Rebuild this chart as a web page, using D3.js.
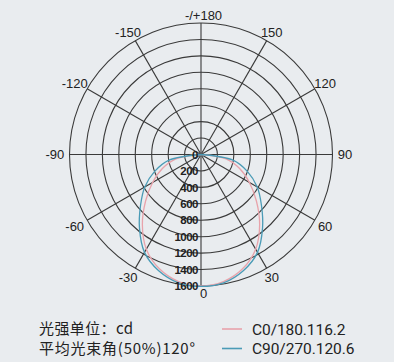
<!DOCTYPE html>
<html>
<head>
<meta charset="utf-8">
<script src="https://cdn.jsdelivr.net/npm/d3@7"></script>
<style>
  html, body { margin: 0; padding: 0; background: #e9ecef; }
  svg { display: block; }
</style>
</head>
<body>
<svg id="chart" width="394" height="362"></svg>
<script>
// ---- data ----
const angleTicks = [180, -150, 150, -120, 120, -90, 90, -60, 60, -30, 30, 0];
const angleTickLabels = ["-/+180", "-150", "150", "-120", "120", "-90", "90", "-60", "60", "-30", "30", "0"];
const radialTicks = [0, 200, 400, 600, 800, 1000, 1200, 1400, 1600];
const spokeAngles = [0, 30, 60, 90, 120, 150, 180, 210, 240, 270, 300, 330];
const curveAngles = [-90, -80, -70, -60, -50, -40, -30, -20, -10, 0, 10, 20, 30, 40, 50, 60, 70, 80, 90];
const c0Values  = [0, 310, 500, 680, 880, 1110, 1330, 1480, 1570, 1600, 1570, 1480, 1330, 1110, 880, 680, 500, 310, 0];
const c90Values = [0, 395, 600, 790, 960, 1165, 1375, 1505, 1585, 1605, 1585, 1505, 1375, 1165, 960, 790, 600, 395, 0];
const seriesNames = ["C0/180.116.2", "C90/270.120.6"];
const seriesColors = ["#e8a3ab", "#4a9bb6"];
const infoLines = ["光强单位：cd", "平均光束角(50%)120°"];

// ---- layout ----
const svg = d3.select("#chart");
const cx = 201, cy = 154.5, R = 131.5;
const r = d3.scaleLinear().domain([0, 1600]).range([0, R]);
const toRad = d => d * Math.PI / 180;
// angle measured from the downward direction, positive to the right
const px = (deg, v) => cx + r(v) * Math.sin(toRad(deg));
const py = (deg, v) => cy + r(v) * Math.cos(toRad(deg));

const g = svg.append("g");

// rings
g.selectAll("circle.ring").data(radialTicks.slice(1)).enter().append("circle")
  .attr("cx", cx).attr("cy", cy).attr("r", d => r(d))
  .attr("fill", "none").attr("stroke", "#3a3a3a").attr("stroke-width", 1.1);

// spokes
g.selectAll("line.spoke").data(spokeAngles).enter().append("line")
  .attr("x1", cx).attr("y1", cy)
  .attr("x2", d => px(d, 1600)).attr("y2", d => py(d, 1600))
  .attr("stroke", "#3a3a3a").attr("stroke-width", 1.1);

// curves
const series = [c0Values, c90Values];
const line = d3.lineRadial()
  .angle(d => Math.PI - toRad(d[0]))
  .radius(d => r(d[1]))
  .curve(d3.curveCatmullRom.alpha(0.5));
series.forEach((vals, i) => {
  const pts = curveAngles.map((a, j) => [a, vals[j]]);
  svg.append("path")
    .attr("transform", `translate(${cx},${cy})`)
    .attr("d", line(pts))
    .attr("fill", "none")
    .attr("stroke", seriesColors[i])
    .attr("stroke-width", 1.3);
});

// radial labels
svg.selectAll("text.rlab").data(radialTicks).enter().append("text")
  .attr("x", cx - 3).attr("y", d => cy + r(d))
  .attr("dy", "0.36em")
  .attr("text-anchor", "end")
  .attr("font-family", "Liberation Sans, Arial, sans-serif")
  .attr("font-size", 11.5)
  .attr("font-weight", "bold")
  .attr("letter-spacing", -0.5)
  .attr("fill", "#222")
  .text(d => d);

// angle labels: numeric part centred on the label point, minus sign hangs left
const angFont = "Liberation Sans, Arial, sans-serif";
const measure = svg.append("text").attr("font-family", angFont).attr("font-size", 13).attr("visibility", "hidden");
const width = s => { measure.text(s); return measure.node().getComputedTextLength(); };
angleTicks.forEach((d, i) => {
  const lab = angleTickLabels[i];
  const s = Math.abs(Math.sin(toRad(d)));
  const LR = 139 + 5 * s;
  let x = cx + LR * Math.sin(toRad(d));
  const y = cy + LR * Math.cos(toRad(d));
  if (Math.abs(d) === 180 || d === 0) x += 2.5;
  const num = lab.replace(/^[-/+]+/, "");
  const xr = (lab === num || Math.abs(d) === 180) ? x + width(lab) / 2 : x + width(num) / 2;
  svg.append("text")
    .attr("x", xr).attr("y", y)
    .attr("dy", "0.36em")
    .attr("text-anchor", "end")
    .attr("font-family", angFont)
    .attr("font-size", 13)
    .attr("fill", "#222")
    .text(lab);
});
measure.remove();

// info text
const infoWidths = [94, 156];
svg.selectAll("text.info").data(infoLines).enter().append("text")
  .attr("x", 39).attr("y", (d, i) => 329 + i * 19.5)
  .attr("dy", "0.36em")
  .attr("font-family", "Noto Sans CJK SC, sans-serif")
  .attr("font-size", 15)
  .attr("fill", "#222")
  .attr("textLength", (d, i) => infoWidths[i])
  .attr("lengthAdjust", "spacing")
  .text(d => d);

// legend
const legendWidths = [93.5, 102.5];
const lg = svg.append("g");
seriesNames.forEach((name, i) => {
  const y = 329 + i * 19.5;
  lg.append("line").attr("x1", 222).attr("x2", 242).attr("y1", y).attr("y2", y)
    .attr("stroke", seriesColors[i]).attr("stroke-width", 1.6);
  lg.append("text").attr("x", 252).attr("y", y).attr("dy", "0.36em")
    .attr("font-family", "Roboto, sans-serif")
    .attr("font-size", 15.5)
    .attr("fill", "#222")
    .attr("textLength", legendWidths[i])
    .attr("lengthAdjust", "spacing")
    .text(name);
});
</script>
</body>
</html>
